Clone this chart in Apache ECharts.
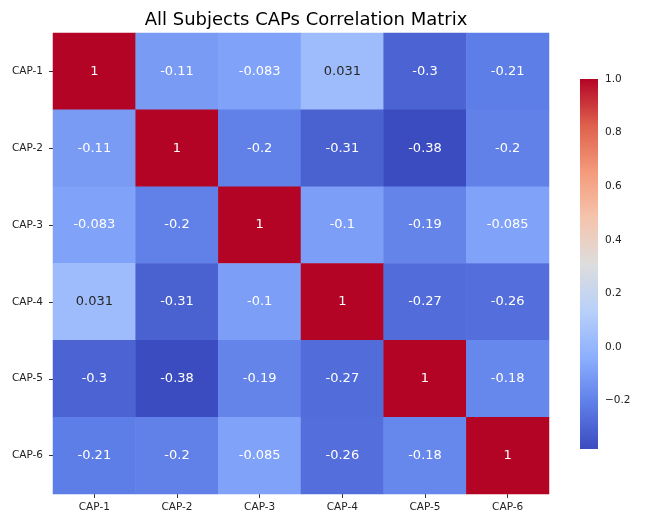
<!DOCTYPE html>
<html>
<head>
<meta charset="utf-8">
<script src="https://cdn.jsdelivr.net/npm/echarts@6/dist/echarts.min.js"></script>
<style>
  html, body { margin: 0; padding: 0; background: #fff; }
  #chart { width: 645px; height: 525px; }
</style>
</head>
<body>
<div id="chart"></div>
<script>
const caps = ["CAP-1", "CAP-2", "CAP-3", "CAP-4", "CAP-5", "CAP-6"];
// correlation rows, CAP-1 .. CAP-6
const row1 = [1, -0.11, -0.083, 0.031, -0.3, -0.21];
const row2 = [-0.11, 1, -0.2, -0.31, -0.38, -0.2];
const row3 = [-0.083, -0.2, 1, -0.1, -0.19, -0.085];
const row4 = [0.031, -0.31, -0.1, 1, -0.27, -0.26];
const row5 = [-0.3, -0.38, -0.19, -0.27, 1, -0.18];
const row6 = [-0.21, -0.2, -0.085, -0.26, -0.18, 1];
const colorbarTicks = [-0.2, 0, 0.2, 0.4, 0.6, 0.8, 1.0];
const vmin = -0.38, vmax = 1;

const rows = [row1, row2, row3, row4, row5, row6];
const font = "DejaVu Sans";

// coolwarm colormap stops
const coolwarm = ["#3b4cc0", "#5f7fe8", "#8db0fe", "#b9d0f9", "#dddddd",
                  "#f5c4ac", "#f49a7b", "#de604d", "#b40426"];

const data = [];
rows.forEach((row, i) => {
  row.forEach((v, j) => {
    const dark = !(v > -0.05 && v < 0.7);
    data.push({
      value: [j, i, v],
      label: { color: dark ? "#ffffff" : "#262626" }
    });
  });
});

// gradient for the colorbar, bottom (vmin) to top (vmax)
const barStops = coolwarm.map((c, k) => ({ offset: 1 - k / (coolwarm.length - 1), color: c }));

const chart = echarts.init(document.getElementById("chart"));
chart.setOption({
  animation: false,
  textStyle: { fontFamily: font },
  title: {
    text: "All Subjects CAPs Correlation Matrix",
    left: 301, top: 6, textAlign: "center",
    textStyle: { fontFamily: font, fontSize: 18, fontWeight: "normal", color: "#000" }
  },
  grid: [
    { left: 53, top: 33, width: 496, height: 461 },
    { left: 580, top: 79, width: 18, height: 370 }
  ],
  xAxis: [
    {
      type: "category", data: caps, gridIndex: 0,
      axisLine: { show: false },
      axisTick: { show: true, alignWithLabel: true, length: 4, lineStyle: { color: "#333" } },
      axisLabel: { fontFamily: font, fontSize: 10.5, color: "#222", margin: 8 },
      splitLine: { show: false }
    },
    { type: "value", gridIndex: 1, show: false, min: 0, max: 1 }
  ],
  yAxis: [
    {
      type: "category", data: caps, gridIndex: 0, inverse: true,
      axisLine: { show: false },
      axisTick: { show: true, alignWithLabel: true, length: 4, lineStyle: { color: "#333" } },
      axisLabel: { fontFamily: font, fontSize: 10.5, color: "#222", margin: 10 },
      splitLine: { show: false }
    },
    {
      type: "value", gridIndex: 1, position: "right", min: vmin, max: vmax,
      axisLine: { show: false },
      axisTick: { show: true, length: 4, customValues: colorbarTicks, lineStyle: { color: "#333" } },
      axisLabel: {
        fontFamily: font, fontSize: 10.5, color: "#222", margin: 7,
        customValues: colorbarTicks,
        formatter: v => (v < 0 ? "\u2212" + Math.abs(v).toFixed(1) : v.toFixed(1))
      },
      splitLine: { show: false }
    }
  ],
  visualMap: {
    type: "continuous",
    show: false,
    min: vmin, max: vmax,
    seriesIndex: 0,
    inRange: { color: coolwarm }
  },
  series: [
    {
      type: "heatmap",
      xAxisIndex: 0, yAxisIndex: 0,
      data: data,
      label: {
        show: true,
        fontFamily: font,
        fontSize: 13,
        formatter: p => String(parseFloat(p.value[2].toPrecision(2)))
      },
      itemStyle: { borderWidth: 0 },
      emphasis: { disabled: true }
    },
    {
      type: "custom",
      xAxisIndex: 1, yAxisIndex: 1,
      data: [[0, vmin, 1, vmax]],
      silent: true,
      renderItem: (params, api) => {
        const p0 = api.coord([api.value(0), api.value(3)]);
        const p1 = api.coord([api.value(2), api.value(1)]);
        return {
          type: "rect",
          shape: { x: p0[0], y: p0[1], width: p1[0] - p0[0], height: p1[1] - p0[1] },
          style: { fill: new echarts.graphic.LinearGradient(0, 0, 0, 1, barStops) }
        };
      }
    }
  ]
});
</script>
</body>
</html>
